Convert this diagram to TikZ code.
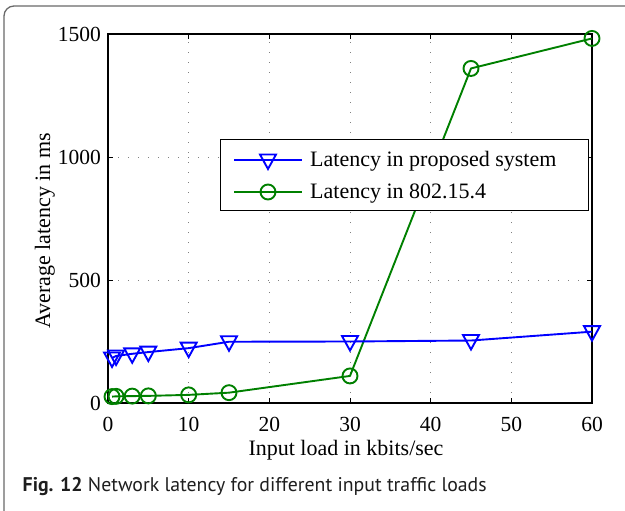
\documentclass[tikz,border=0pt]{standalone}
\usepackage{fontspec}
\setmainfont{Liberation Serif}
\newfontfamily\capfont{PT Sans}
\definecolor{plotblue}{RGB}{0,0,255}
\definecolor{plotgreen}{RGB}{0,128,0}
\definecolor{framegray}{RGB}{105,105,105}
\definecolor{captext}{RGB}{30,30,30}
\tikzset{
  axisbox/.style={line width=1.3pt, black},
  gridline/.style={gray, line width=0.9pt, dash pattern=on 1pt off 9pt},
  tickline/.style={line width=0.9pt, black},
  ticklabel/.style={inner sep=0pt, font=\fontsize{21.5}{24}\selectfont},
  axislabel/.style={inner sep=0pt, font=\fontsize{22}{26}\selectfont},
  blueline/.style={plotblue, line width=1.9pt, line join=round},
  greenline/.style={plotgreen, line width=1.9pt, line join=round},
  trimark/.pic={\draw[plotblue, line width=1.9pt, line join=miter]
      (-8pt,5.5pt) -- (8pt,5.5pt) -- (0pt,-9pt) -- cycle;},
  circmark/.pic={\draw[plotgreen, line width=1.9pt] (0,0) circle[radius=7.5pt];},
  legendbox/.style={draw=black, fill=white, line width=1pt},
}
\begin{document}
\begin{tikzpicture}[x=1pt, y=-1pt]
\useasboundingbox (0,0) rectangle (625,511);

% outer panel frame (right and bottom sides run past the page edge)
\begin{scope}
  \clip (0,0) rectangle (625,511);
  \draw[framegray, line width=1.3pt, rounded corners=10pt] (4,6) rectangle (640,525);
\end{scope}

% data area: origin at the lower left corner of the axes, data units
\begin{scope}[shift={(108,403)}, x=8.0667pt, y=0.246pt]
  % grid
  \foreach \gx in {10,20,...,50} \draw[gridline] (\gx,0) -- (\gx,1500);
  \foreach \gy in {500,1000} \draw[gridline] (0,\gy) -- (60,\gy);
  % ticks
  \foreach \gx in {10,20,...,50} {
    \draw[tickline] (\gx,0) -- ++(0pt,5pt);
    \draw[tickline] (\gx,1500) -- ++(0pt,-5pt);
  }
  \foreach \gy in {500,1000} {
    \draw[tickline] (0,\gy) -- ++(5pt,0pt);
    \draw[tickline] (60,\gy) -- ++(-5pt,0pt);
  }
  % axes box
  \draw[axisbox] (0,0) rectangle (60,1500);
  % tick labels
  \foreach \gx in {0,10,...,60}
    \node[ticklabel, anchor=base] (xl\gx) at (\gx,0) [yshift=-28pt] {\gx};
  \foreach \gy in {0,500,1000,1500}
    \node[ticklabel, anchor=base east] (yl\gy) at (0,\gy) [xshift=-7pt, yshift=-7.2pt] {\gy};

  % series: proposed system
  \coordinate (b1) at (0.5,183);
  \coordinate (b2) at (1,191);
  \coordinate (b3) at (3,200);
  \coordinate (b4) at (5,207);
  \coordinate (b5) at (10,223);
  \coordinate (b6) at (15,249);
  \coordinate (b7) at (30,250);
  \coordinate (b8) at (45,254);
  \coordinate (b9) at (60,290);
  % series: 802.15.4
  \coordinate (g1) at (0.5,26);
  \coordinate (g2) at (1,27);
  \coordinate (g3) at (3,28);
  \coordinate (g4) at (5,29);
  \coordinate (g5) at (10,33);
  \coordinate (g6) at (15,42);
  \coordinate (g7) at (30,110);
  \coordinate (g8) at (45,1360);
  \coordinate (g9) at (60,1482);

  \draw[greenline] (g1) -- (g2) -- (g3) -- (g4) -- (g5) -- (g6) -- (g7) -- (g8) -- (g9);
  \foreach \n in {1,...,9} \pic at (g\n) {circmark};
  \draw[blueline] (b1) -- (b2) -- (b3) -- (b4) -- (b5) -- (b6) -- (b7) -- (b8) -- (b9);
  \foreach \n in {1,...,9} \pic at (b\n) {trimark};
\end{scope}

% axis labels
\node[axislabel, anchor=base] (xlabel) at (346,455) {Input load in kbits/sec};
\node[axislabel, anchor=base, rotate=90] (ylabel) at (50,231) {Average latency in ms};

% legend
\node[legendbox, minimum width=368pt, minimum height=71pt, anchor=north west, inner sep=0pt]
  (legend) at (220,139) {};
\coordinate (lb1) at (234,160);
\coordinate (lb2) at (302,160);
\coordinate (lbm) at (268,160);
\coordinate (lg1) at (234,192);
\coordinate (lg2) at (302,192);
\coordinate (lgm) at (268,192);
\draw[blueline] (lb1) -- (lb2);
\pic at (lbm) {trimark};
\draw[greenline] (lg1) -- (lg2);
\pic at (lgm) {circmark};
\node[axislabel, anchor=base west] (lt1) at (310,167) {Latency in proposed system};
\node[axislabel, anchor=base west] (lt2) at (310,198.5) {Latency in 802.15.4};

% caption
\node[inner sep=0pt, anchor=base west, text=captext, font=\capfont\fontsize{19.8}{24}\selectfont]
  (caption) at (22.5,491.5) {\textbf{Fig. 12} Network latency for different input traffic loads};
\end{tikzpicture}
\end{document}
